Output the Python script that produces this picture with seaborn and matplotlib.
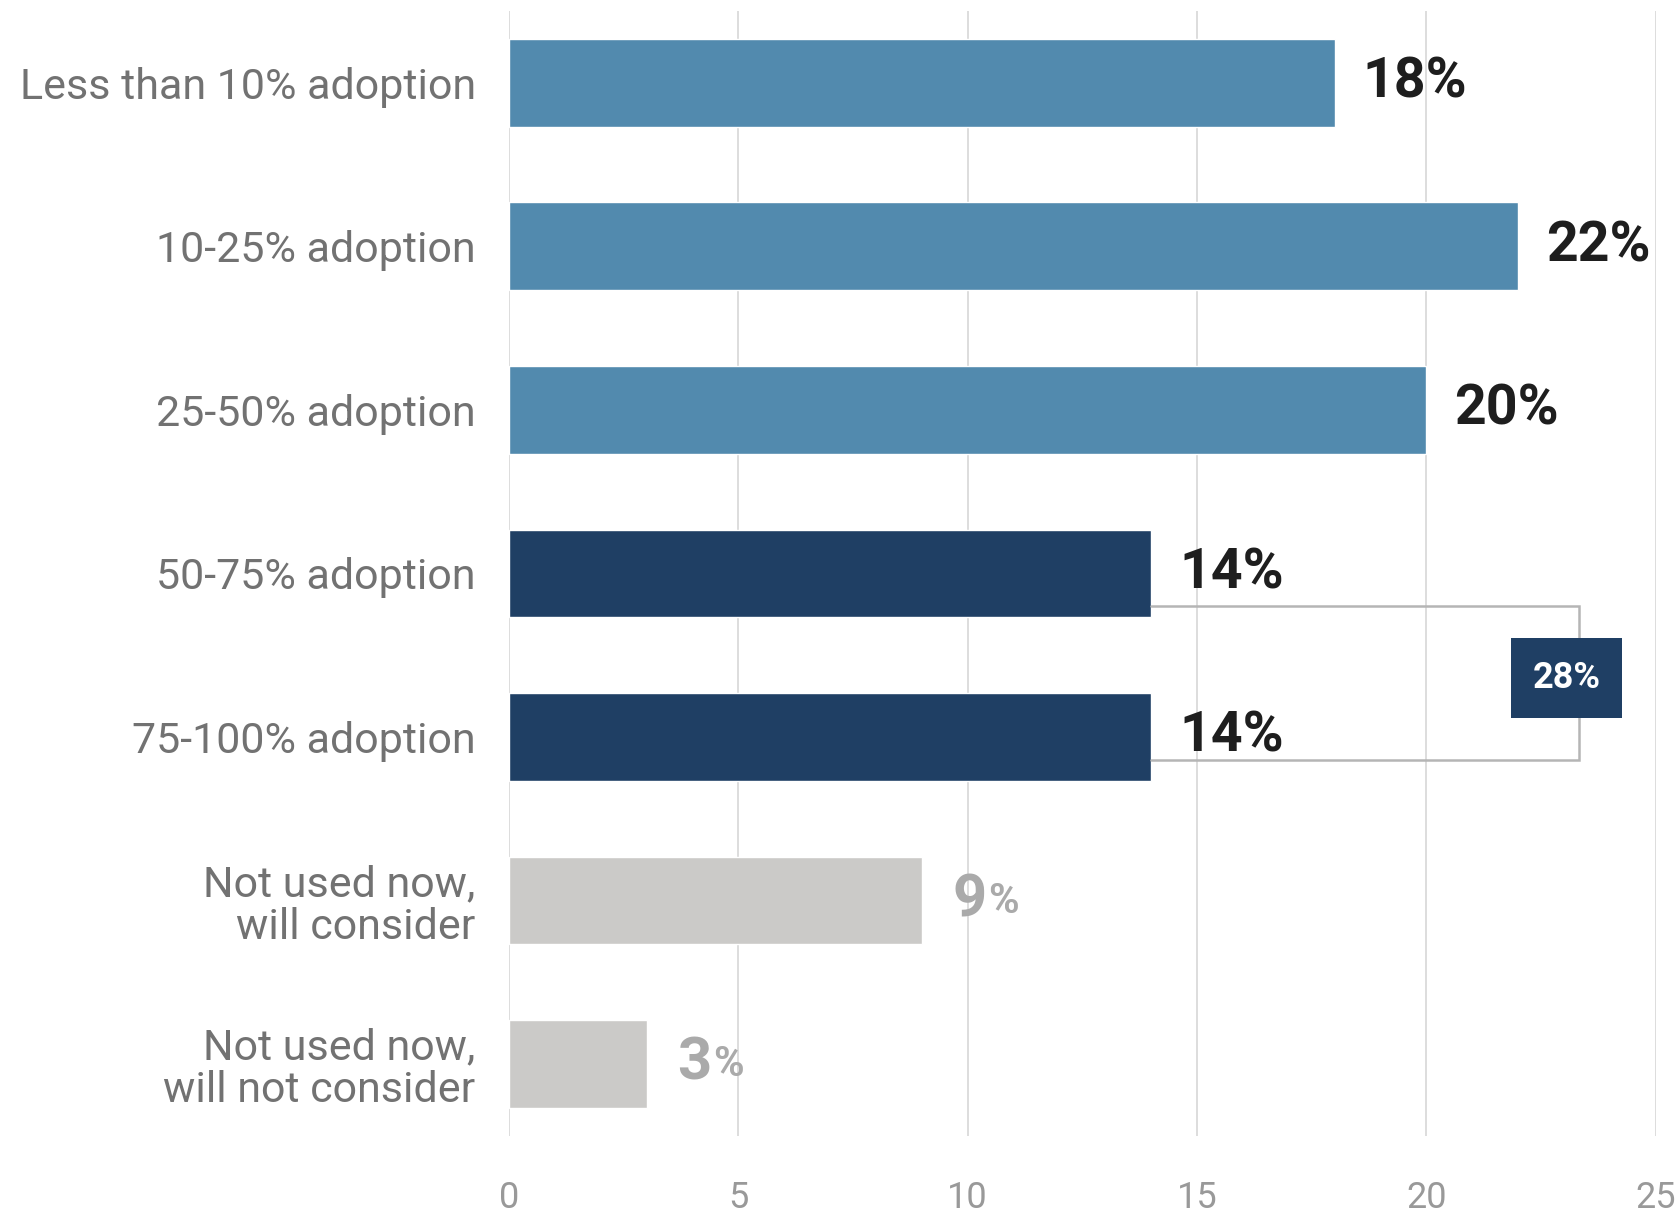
import matplotlib
matplotlib.use("Agg")
import matplotlib.pyplot as plt
import seaborn as sns
import pandas as pd
from matplotlib.patches import Rectangle

# Share of respondents by adoption level
categories = [
    "Less than 10% adoption",
    "10-25% adoption",
    "25-50% adoption",
    "50-75% adoption",
    "75-100% adoption",
    "Not used now,\nwill consider",
    "Not used now,\nwill not consider",
]
values = [18, 22, 20, 14, 14, 9, 3]
groups = ["low", "low", "low", "high", "high", "none", "none"]
x_ticks = [0, 5, 10, 15, 20, 25]
combined_label = "28%"

group_colors = {"low": "#528aae", "high": "#1f3f64", "none": "#cbcac8"}
value_colors = {"low": "#1e1e1e", "high": "#1e1e1e", "none": "#aaaaaa"}

df = pd.DataFrame({"category": categories, "value": values, "group": groups})

sns.set_theme(style="white")
plt.rcParams["font.family"] = ["Roboto", "DejaVu Sans"]

fig = plt.figure(figsize=(16.81, 12.14), dpi=100)
ax = fig.add_axes([0.3028, 0.0643, 0.6822, 0.9267])

sns.barplot(
    data=df, x="value", y="category", hue="group", palette=group_colors,
    orient="h", width=0.537, dodge=False, legend=False, ax=ax, saturation=1,
)

ax.set_xlim(0, 25)
ax.set_ylim(6.44, -0.44)
ax.set_xticks(x_ticks)
ax.set_xticklabels([str(t) for t in x_ticks], fontsize=26, color="#999999")
ax.set_xlabel("")
ax.set_ylabel("")
ax.tick_params(axis="x", length=0, pad=32)
ax.tick_params(axis="y", length=0, pad=24)
for lab in ax.get_yticklabels():
    lab.set_fontsize(31)
    lab.set_color("#727272")
    lab.set_linespacing(1.05)
    lab.set_horizontalalignment("right")
for s in ax.spines.values():
    s.set_visible(False)
ax.xaxis.grid(True, color="#dddddd", linewidth=1.4)
ax.set_axisbelow(True)

# value labels at the end of each bar
for i, (v, g) in enumerate(zip(values, groups)):
    if g == "none":
        t = ax.annotate(str(v), xy=(v, i), xytext=(22, 0), textcoords="offset points",
                        ha="left", va="center", fontsize=43, fontweight="bold",
                        color=value_colors[g])
        ax.annotate("%", xy=(1, 0), xycoords=t, xytext=(1, 5),
                    textcoords="offset points", ha="left", va="bottom",
                    fontsize=30, fontweight="bold", color=value_colors[g])
    else:
        ax.annotate(f"{v}%", xy=(v, i), xytext=(20, 0), textcoords="offset points",
                    ha="left", va="center", fontsize=40, fontweight="bold",
                    color=value_colors[g])

# bracket grouping the two highest adoption levels
br_x = 23.32
ax.plot([values[3], br_x, br_x, values[4]], [3.197, 3.197, 4.144, 4.144],
        color="#b5b5b5", linewidth=1.8, zorder=3, solid_joinstyle="miter")
ax.add_patch(Rectangle((21.84, 3.393), 2.43, 0.492, facecolor="#1f3f64",
                       edgecolor="none", zorder=4))
ax.text(23.055, 3.64, combined_label, ha="center", va="center", fontsize=26,
        fontweight="bold", color="white", zorder=5)

fig.savefig("out.png", dpi=100)
